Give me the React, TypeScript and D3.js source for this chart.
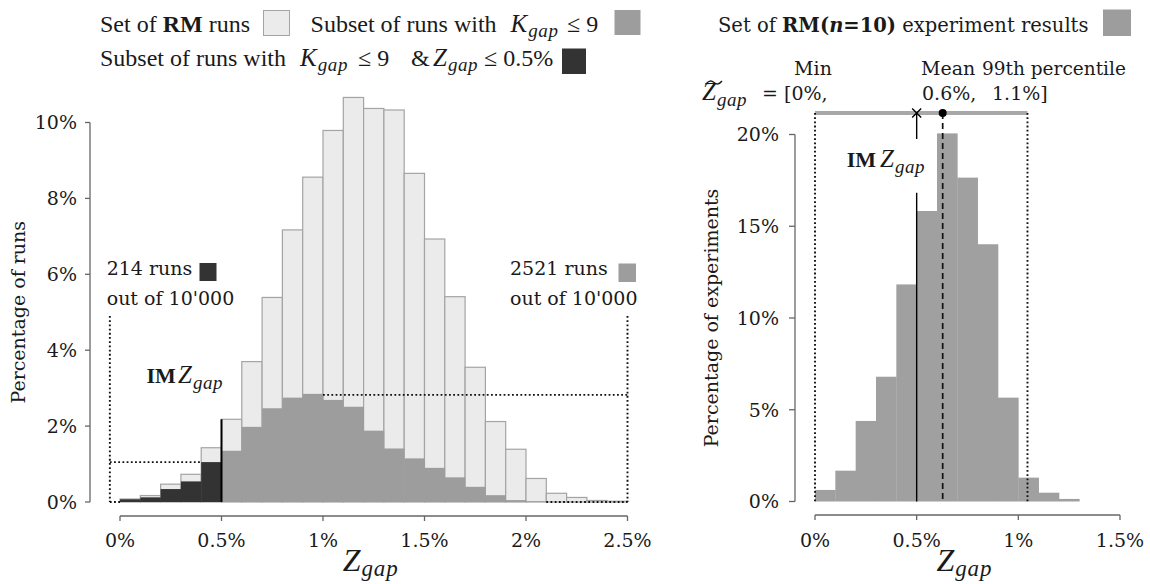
import React from "react";
import * as d3 from "d3";

// left histogram: Z_gap of all RM runs, bins of 0.1%
const binStarts = [0, 0.1, 0.2, 0.3, 0.4, 0.5, 0.6, 0.7, 0.8, 0.9, 1.0, 1.1, 1.2, 1.3, 1.4, 1.5, 1.6, 1.7, 1.8, 1.9, 2.0, 2.1, 2.2, 2.3, 2.4];
const allRunsPct = [0.08, 0.17, 0.47, 0.73, 1.43, 2.18, 3.7, 5.39, 7.17, 8.56, 9.79, 10.66, 10.37, 10.33, 8.66, 6.93, 5.41, 3.55, 2.12, 1.39, 0.62, 0.23, 0.12, 0.04, 0.02];
const kgapPct = [0.07, 0.12, 0.34, 0.54, 1.05, 1.35, 1.98, 2.47, 2.75, 2.85, 2.69, 2.51, 1.88, 1.41, 1.15, 0.9, 0.65, 0.4, 0.18, 0.05, 0.02, 0, 0, 0, 0];
const kgapZgapPct = [0.07, 0.12, 0.34, 0.54, 1.05];

// right histogram: RM(n=10) experiments
const expBinStarts = [0, 0.1, 0.2, 0.3, 0.4, 0.5, 0.6, 0.7, 0.8, 0.9, 1.0, 1.1, 1.2];
const expPct = [0.63, 1.68, 4.39, 6.8, 11.83, 15.83, 20.06, 17.65, 14.02, 5.66, 1.3, 0.48, 0.14];

const leftXTicks = [0, 0.5, 1, 1.5, 2, 2.5];
const leftYTicks = [0, 2, 4, 6, 8, 10];
const rightXTicks = [0, 0.5, 1, 1.5];
const rightYTicks = [0, 5, 10, 15, 20];

const imZgap = 0.5;
const expMin = 0;
const expMean = 0.628;
const expP99 = 1.045;
const statNames = ["Min", "Mean", "99th percentile"];
const statLabels = ["0%", "0.6%", "1.1%"];

const BIN = 0.1;
const LIGHT = "#ebebeb";
const LIGHT_STROKE = "#a4a4a4";
const MID = "#9d9d9d";
const DARK = "#333333";
const AXIS = "#666";
const INK = "#1a1a1a";
const GEORGIA = "'DejaVu Serif', serif";
const TEX = "'Liberation Serif', serif";

const fmt = (d: number) => `${d}%`;

function MathSub({ x, y, main, sub, size = 25 }: { x: number; y: number; main: string; sub: string; size?: number }) {
  return (
    <text x={x} y={y} fontFamily={TEX} fontStyle="italic" fontSize={size} fill={INK}>
      {main}
      <tspan fontSize={size * 0.76} dx={1} dy={size * 0.22} letterSpacing={0.6}>{sub}</tspan>
    </text>
  );
}

function Dotted({ x1, y1, x2, y2 }: { x1: number; y1: number; x2: number; y2: number }) {
  return <line x1={x1} y1={y1} x2={x2} y2={y2} stroke="#111" strokeWidth={1.9} strokeDasharray="1.8,2.4" />;
}

export default function App() {
  const xL = d3.scaleLinear().domain([0, 2.5]).range([120, 627.5]);
  const yL = d3.scaleLinear().domain([0, 10]).range([502, 122.5]);
  const xR = d3.scaleLinear().domain([0, 1.5]).range([815, 1120]);
  const yR = d3.scaleLinear().domain([0, 20]).range([501.5, 134.5]);

  const maxMidIdx = d3.maxIndex(kgapPct);
  const maxDarkIdx = d3.maxIndex(kgapZgapPct);
  const bracketTop = 4.9;
  const bracketLeft = -0.05;
  const topLineY = 113;

  return (
    <svg width={1150} height={584} style={{ position: "absolute", left: 0, top: 0, background: "#fff" }}>
      {/* ---------- left legend ---------- */}
      <text x={100} y={31.5} fontFamily={TEX} fontSize={24} fill={INK}>
        Set of <tspan fontWeight="bold">RM</tspan> runs
      </text>
      <rect x={263.5} y={10.5} width={26} height={25} fill={LIGHT} stroke={LIGHT_STROKE} />
      <text x={310.6} y={31.5} fontFamily={TEX} fontSize={24} fill={INK}>Subset of runs with</text>
      <MathSub x={510.5} y={31.5} main="K" sub="gap" />
      <text x={567} y={31.5} fontFamily={TEX} fontSize={24} fill={INK}>≤ 9</text>
      <rect x={614.5} y={10} width={26} height={25} fill={MID} />

      <text x={100} y={65.5} fontFamily={TEX} fontSize={24} fill={INK}>Subset of runs with</text>
      <MathSub x={300} y={65.5} main="K" sub="gap" />
      <text x={358} y={65.5} fontFamily={TEX} fontSize={24} fill={INK}>≤ 9</text>
      <text x={411} y={65.5} fontFamily={TEX} fontSize={24} fill={INK}>&amp;</text>
      <MathSub x={433} y={65.5} main="Z" sub="gap" />
      <text x={484} y={65.5} fontFamily={TEX} fontSize={24} fill={INK}>≤ 0.5%</text>
      <rect x={562} y={48.5} width={24} height={25.5} fill={DARK} />

      {/* ---------- left bars ---------- */}
      {binStarts.map((b, i) => (
        <rect key={"a" + i} x={xL(b)} y={yL(allRunsPct[i])} width={xL(b + BIN) - xL(b)} height={yL(0) - yL(allRunsPct[i])}
          fill={LIGHT} stroke={LIGHT_STROKE} strokeWidth={1.2} />
      ))}
      {binStarts.map((b, i) => kgapPct[i] > 0 && (
        <rect key={"k" + i} x={xL(b)} y={yL(kgapPct[i])} width={xL(b + BIN) - xL(b) + 0.3} height={yL(0) - yL(kgapPct[i])} fill={MID} />
      ))}
      {kgapZgapPct.map((v, i) => (
        <rect key={"d" + i} x={xL(binStarts[i])} y={yL(v)} width={xL(binStarts[i] + BIN) - xL(binStarts[i]) + 0.3} height={yL(0) - yL(v)} fill={DARK} />
      ))}
      <line x1={xL(imZgap)} x2={xL(imZgap)} y1={yL(0)} y2={yL(allRunsPct[5])} stroke="#000" strokeWidth={2} />

      {/* brackets */}
      <Dotted x1={xL(bracketLeft)} y1={yL(bracketTop)} x2={xL(bracketLeft)} y2={yL(0)} />
      <Dotted x1={xL(bracketLeft)} y1={yL(0)} x2={xL(0)} y2={yL(0)} />
      <Dotted x1={xL(bracketLeft)} y1={yL(kgapZgapPct[maxDarkIdx])} x2={xL(binStarts[maxDarkIdx])} y2={yL(kgapZgapPct[maxDarkIdx])} />
      <Dotted x1={xL(2.5)} y1={yL(bracketTop)} x2={xL(2.5)} y2={yL(0)} />
      <Dotted x1={xL(binStarts[maxMidIdx] + BIN)} y1={yL(kgapPct[maxMidIdx]) + 1} x2={xL(2.5)} y2={yL(kgapPct[maxMidIdx]) + 1} />
      <Dotted x1={xL(2.1)} y1={yL(0)} x2={xL(2.5)} y2={yL(0)} />

      {/* annotations */}
      <text x={106.7} y={275} fontFamily={GEORGIA} fontSize={19} fill={INK}>214 runs</text>
      <rect x={199.5} y={263} width={17} height={18} fill={DARK} />
      <text x={106.7} y={305} fontFamily={GEORGIA} fontSize={19} fill={INK}>out of 10'000</text>
      <text x={510} y={275} fontFamily={GEORGIA} fontSize={19} fill={INK}>2521 runs</text>
      <rect x={618.5} y={263.5} width={17.5} height={18.5} fill={MID} />
      <text x={510} y={305} fontFamily={GEORGIA} fontSize={19} fill={INK}>out of 10'000</text>

      <text x={146.5} y={383} fontFamily={TEX} fontSize={22} fontWeight="bold" fill={INK}>IM</text>
      <MathSub x={178} y={383} main="Z" sub="gap" />

      {/* left axes */}
      <line x1={90} x2={90} y1={yL(0)} y2={yL(10)} stroke={AXIS} strokeWidth={1.3} />
      {leftYTicks.map(t => (
        <g key={"ly" + t}>
          <line x1={85} x2={90} y1={yL(t)} y2={yL(t)} stroke={AXIS} strokeWidth={1.3} />
          <text x={77} y={yL(t)} dy="0.36em" textAnchor="end" fontFamily={GEORGIA} fontSize={19} fill={INK}>{fmt(t)}</text>
        </g>
      ))}
      <line x1={xL(0)} x2={xL(2.5)} y1={516} y2={516} stroke={AXIS} strokeWidth={1.3} />
      {leftXTicks.map(t => (
        <g key={"lx" + t}>
          <line x1={xL(t)} x2={xL(t)} y1={516} y2={521} stroke={AXIS} strokeWidth={1.3} />
          <text x={xL(t)} y={547} textAnchor="middle" fontFamily={GEORGIA} fontSize={19} fill={INK}>{fmt(t)}</text>
        </g>
      ))}
      <text transform={`translate(25,${(yL(0) + yL(10)) / 2}) rotate(-90)`} textAnchor="middle" fontFamily={GEORGIA} fontSize={19} fill={INK}>Percentage of runs</text>
      <text x={(xL(0) + xL(2.5)) / 2 - 31} y={571} fontFamily={TEX} fontStyle="italic" fontSize={32} fill={INK}>
        Z<tspan fontSize={23} dx={1} dy={5} letterSpacing={0.8}>gap</tspan>
      </text>

      {/* ---------- right legend ---------- */}
      <text x={718} y={31.5} fontFamily={GEORGIA} fontSize={19.5} fill={INK}>
        Set of <tspan fontWeight="bold">RM(<tspan fontStyle="italic">n</tspan>=10)</tspan> experiment results
      </text>
      <rect x={1103} y={9.5} width={28} height={26.5} fill={MID} />

      {/* stats header */}
      <text x={813} y={75} textAnchor="middle" fontFamily={GEORGIA} fontSize={19} fill={INK}>{statNames[0]}</text>
      <text x={921} y={75} fontFamily={GEORGIA} fontSize={19} fill={INK}>{statNames[1]}</text>
      <text x={982} y={75} fontFamily={GEORGIA} fontSize={18.5} fill={INK}>{statNames[2]}</text>
      <MathSub x={702} y={100} main="Z" sub="gap" size={25} />
      <path d="M706,84 q4,-5 8,-1.5 t8,-1.5" fill="none" stroke={INK} strokeWidth={1.4} />
      <text x={762} y={100} fontFamily={GEORGIA} fontSize={19} fill={INK}>= [{statLabels[0]},</text>
      <text x={922} y={100} fontFamily={GEORGIA} fontSize={19} fill={INK}>{statLabels[1]},</text>
      <text x={992} y={100} fontFamily={GEORGIA} fontSize={19} fill={INK}>{statLabels[2]}]</text>

      {/* right bars */}
      {expBinStarts.map((b, i) => (
        <rect key={"e" + i} x={xR(b)} y={yR(expPct[i])} width={xR(b + BIN) - xR(b) + 0.3} height={yR(0) - yR(expPct[i])} fill="#a0a0a0" />
      ))}

      {/* range line and markers */}
      <line x1={xR(expMin)} x2={xR(expP99)} y1={topLineY} y2={topLineY} stroke="#a8a8a8" strokeWidth={4} />
      <Dotted x1={xR(expMin)} y1={topLineY} x2={xR(expMin)} y2={yR(0)} />
      <Dotted x1={xR(expP99)} y1={topLineY} x2={xR(expP99)} y2={yR(0)} />
      <line x1={xR(expMean)} x2={xR(expMean)} y1={topLineY} y2={yR(0)} stroke="#111" strokeWidth={1.7} strokeDasharray="6,4" />
      <circle cx={xR(expMean)} cy={topLineY} r={4} fill="#000" />
      <line x1={xR(imZgap)} x2={xR(imZgap)} y1={topLineY} y2={139} stroke="#000" strokeWidth={1.4} />
      <line x1={xR(imZgap)} x2={xR(imZgap)} y1={192.7} y2={yR(0)} stroke="#000" strokeWidth={1.4} />
      <path d={`M${xR(imZgap) - 4.5},${topLineY - 4.5}L${xR(imZgap) + 4.5},${topLineY + 4.5}M${xR(imZgap) - 4.5},${topLineY + 4.5}L${xR(imZgap) + 4.5},${topLineY - 4.5}`} stroke="#000" strokeWidth={1.4} />
      <text x={846.7} y={167} fontFamily={TEX} fontSize={22} fontWeight="bold" fill={INK}>IM</text>
      <MathSub x={880} y={167} main="Z" sub="gap" />

      {/* right axes */}
      <line x1={795} x2={795} y1={yR(0)} y2={yR(20)} stroke={AXIS} strokeWidth={1.3} />
      {rightYTicks.map(t => (
        <g key={"ry" + t}>
          <line x1={789} x2={795} y1={yR(t)} y2={yR(t)} stroke={AXIS} strokeWidth={1.3} />
          <text x={779} y={yR(t)} dy="0.36em" textAnchor="end" fontFamily={GEORGIA} fontSize={19} fill={INK}>{fmt(t)}</text>
        </g>
      ))}
      <line x1={xR(0)} x2={xR(1.5)} y1={515} y2={515} stroke={AXIS} strokeWidth={1.3} />
      {rightXTicks.map(t => (
        <g key={"rx" + t}>
          <line x1={xR(t)} x2={xR(t)} y1={515} y2={520} stroke={AXIS} strokeWidth={1.3} />
          <text x={xR(t)} y={547} textAnchor="middle" fontFamily={GEORGIA} fontSize={19} fill={INK}>{fmt(t)}</text>
        </g>
      ))}
      <text transform={`translate(718,${(yR(0) + yR(20)) / 2}) rotate(-90)`} textAnchor="middle" fontFamily={GEORGIA} fontSize={19} fill={INK}>Percentage of experiments</text>
      <text x={(xR(0) + xR(1.5)) / 2 - 31} y={571} fontFamily={TEX} fontStyle="italic" fontSize={32} fill={INK}>
        Z<tspan fontSize={23} dx={1} dy={5} letterSpacing={0.8}>gap</tspan>
      </text>
    </svg>
  );
}
